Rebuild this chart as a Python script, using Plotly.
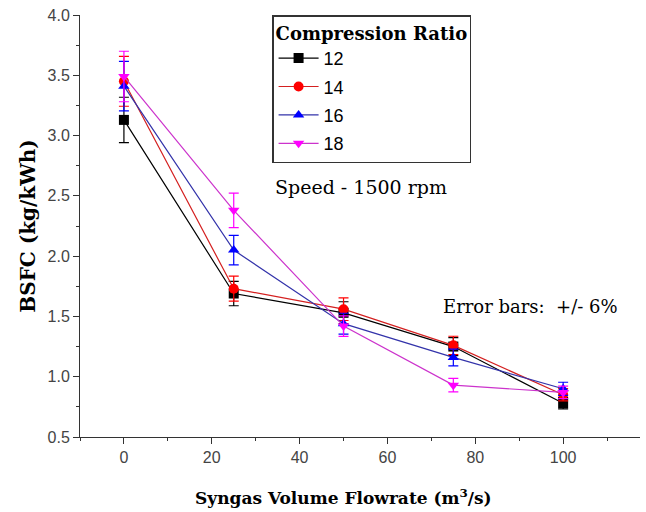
import plotly.graph_objects as go

# Syngas flowrate (m^3/s)
flowrate = [0, 25, 50, 75, 100]

# BSFC (kg/kWh) for each compression ratio
bsfc_cr12 = [3.13, 1.69, 1.53, 1.25, 0.78]
bsfc_cr14 = [3.45, 1.73, 1.56, 1.26, 0.85]
bsfc_cr16 = [3.41, 2.05, 1.44, 1.16, 0.90]
bsfc_cr18 = [3.49, 2.38, 1.42, 0.93, 0.87]

series_names = ["12", "14", "16", "18"]
error_pct = 6

series = [
    (series_names[0], bsfc_cr12, "#000000", "square"),
    (series_names[1], bsfc_cr14, "#ff0000", "circle"),
    (series_names[2], bsfc_cr16, "#0000ff", "triangle-up"),
    (series_names[3], bsfc_cr18, "#ff00ff", "triangle-down"),
]
line_colors = ["#000000", "#d42020", "#3333aa", "#cc33cc"]

fig = go.Figure()
for (name, vals, col, sym), lc in zip(series, line_colors):
    fig.add_trace(go.Scatter(
        x=flowrate, y=vals, name=name, mode="lines+markers",
        legendgroup=name,
        line=dict(color=lc, width=1.2),
        marker=dict(color=col, symbol=sym, size=10),
        error_y=dict(type="percent", value=error_pct, color=col,
                     thickness=1.2, width=5),
    ))

serif = "Palatino Linotype, DejaVu Serif, serif"
sans = "Liberation Sans, Arial, sans-serif"

fig.update_layout(
    width=646, height=512,
    margin=dict(l=80, r=6, t=15, b=75),
    paper_bgcolor="white", plot_bgcolor="white",
    showlegend=True,
    legend=dict(
        title=dict(text="<b>Compression Ratio</b>",
                   font=dict(family=serif, size=18, color="black")),
        font=dict(family=sans, size=18, color="black"),
        x=0.343, y=1.0, xanchor="left", yanchor="top",
        bordercolor="#333333", borderwidth=1.5, bgcolor="white",
        tracegroupgap=2, itemwidth=40,
    ),
    xaxis=dict(
        range=[-10, 117.5], tickvals=[0, 20, 40, 60, 80, 100],
        ticks="outside", ticklen=6, tickwidth=1, tickcolor="#333333",
        showline=True, linecolor="#333333", linewidth=1,
        showgrid=False, zeroline=False,
        minor=dict(ticks="outside", ticklen=3, dtick=10, tick0=0, tickcolor="#333333"),
        tickfont=dict(family=sans, size=16, color="#444444"),
    ),
    yaxis=dict(
        range=[0.5, 4.0], dtick=0.5, tickformat=".1f",
        ticks="outside", ticklen=6, tickwidth=1, tickcolor="#333333",
        showline=True, linecolor="#333333", linewidth=1,
        showgrid=False, zeroline=False,
        minor=dict(ticks="outside", ticklen=3, dtick=0.25, tickcolor="#333333"),
        tickfont=dict(family=sans, size=16, color="#444444"),
        title=dict(text="<b>BSFC (kg/kWh)</b>",
                   font=dict(family=serif, size=20, color="black"), standoff=6),
    ),
    annotations=[
        dict(text="<b>Syngas Volume Flowrate (m<sup>3</sup>/s)</b>",
             x=0.471, y=-0.142, xref="paper", yref="paper",
             xanchor="center", yanchor="middle", showarrow=False,
             font=dict(family=serif, size=17, color="black")),
        dict(text="Speed - 1500 rpm", x=33.9, y=2.57, xref="x", yref="y",
             xanchor="left", yanchor="middle", showarrow=False,
             font=dict(family=serif, size=19, color="black")),
        dict(text="Error bars:  +/- 6%", x=72.3, y=1.58, xref="x", yref="y",
             xanchor="left", yanchor="middle", showarrow=False,
             font=dict(family=serif, size=18, color="black")),
    ],
)

fig.write_html("out.html")
